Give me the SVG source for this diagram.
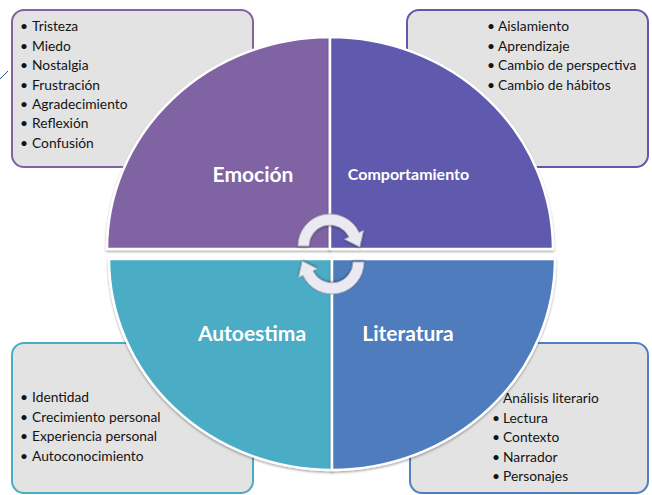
<svg xmlns="http://www.w3.org/2000/svg" width="652" height="495" viewBox="0 0 652 495">
<defs>
<filter id="sh" x="-10%" y="-10%" width="120%" height="120%">
<feDropShadow dx="0" dy="1.5" stdDeviation="1.2" flood-color="#000" flood-opacity="0.35"/>
</filter>
<filter id="ash" x="-30%" y="-30%" width="160%" height="160%">
<feDropShadow dx="0" dy="1" stdDeviation="1" flood-color="#000" flood-opacity="0.35"/>
</filter>
<path id="arr" d="M -32,0 A 32 32 0 0 1 29,-13.5 L 33.5,-15.6 L 29.8,1 L 14.5,-6.8 L 19.0,-8.9 A 21 21 0 0 0 -21,0 Z"/>
</defs>
<style>
.box{fill:#e3e3e3;stroke-width:2}
.li{font-family:Lato,"Liberation Sans",sans-serif;font-size:13.8px;fill:#141414}
.q{stroke:#fff;stroke-width:2.5;stroke-linejoin:round;filter:url(#sh)}
.t{font-family:Lato,"Liberation Sans",sans-serif;font-weight:bold;fill:#fff;text-anchor:middle}
.ar{fill:#ebeaf3;stroke:#a7a6b3;stroke-width:0.9;filter:url(#ash)}
</style>
<rect width="652" height="495" fill="#fff"/>
<g id="box-emocion">
<rect class="box" x="12" y="10" width="241" height="157" rx="12" stroke="#8064a2"/>
<text class="li"><tspan x="20" y="31">•</tspan><tspan x="32" y="31">Tristeza</tspan><tspan x="20" y="50.5">•</tspan><tspan x="32" y="50.5">Miedo</tspan><tspan x="20" y="70">•</tspan><tspan x="32" y="70">Nostalgia</tspan><tspan x="20" y="89.5">•</tspan><tspan x="32" y="89.5">Frustración</tspan><tspan x="20" y="109">•</tspan><tspan x="32" y="109">Agradecimiento</tspan><tspan x="20" y="128">•</tspan><tspan x="32" y="128">Reflexión</tspan><tspan x="20" y="147.5">•</tspan><tspan x="32" y="147.5">Confusión</tspan></text>
</g>
<g id="box-comportamiento">
<rect class="box" x="407" y="10" width="241" height="157" rx="12" stroke="#5f5aad"/>
<text class="li"><tspan x="487" y="31">•</tspan><tspan x="498" y="31">Aislamiento</tspan><tspan x="487" y="50.5">•</tspan><tspan x="498" y="50.5">Aprendizaje</tspan><tspan x="487" y="70">•</tspan><tspan x="498" y="70">Cambio de perspectiva</tspan><tspan x="487" y="89.5">•</tspan><tspan x="498" y="89.5">Cambio de hábitos</tspan></text>
</g>
<g id="box-autoestima">
<rect class="box" x="12" y="343" width="241" height="150" rx="12" stroke="#4bacc6"/>
<text class="li"><tspan x="20" y="402">•</tspan><tspan x="32" y="402">Identidad</tspan><tspan x="20" y="421.5">•</tspan><tspan x="32" y="421.5">Crecimiento personal</tspan><tspan x="20" y="441">•</tspan><tspan x="32" y="441">Experiencia personal</tspan><tspan x="20" y="460.5">•</tspan><tspan x="32" y="460.5">Autoconocimiento</tspan></text>
</g>
<g id="box-literatura">
<rect class="box" x="410" y="343" width="238" height="150" rx="12" stroke="#4f81bd"/>
<text class="li"><tspan x="503" y="403">Análisis literario</tspan><tspan x="492" y="422.5">•</tspan><tspan x="503" y="422.5">Lectura</tspan><tspan x="492" y="442">•</tspan><tspan x="503" y="442">Contexto</tspan><tspan x="492" y="461.5">•</tspan><tspan x="503" y="461.5">Narrador</tspan><tspan x="492" y="481">•</tspan><tspan x="503" y="481">Personajes</tspan></text>
</g>
<g id="emocion">
<path class="q" fill="#8064a2" d="M330,249 L107,249 A223 212 0 0 1 330,37 Z"/>
<text class="t" x="253" y="182" font-size="21">Emoción</text>
</g>
<g id="comportamiento">
<path class="q" fill="#5f5aad" d="M330,249 L330,37 A223 212 0 0 1 553,249 Z"/>
<text class="t" x="408.5" y="180" font-size="16">Comportamiento</text>
</g>
<g id="autoestima">
<path class="q" fill="#4bacc6" d="M332,259 L332,470 A223 211 0 0 1 109,259 Z"/>
<text class="t" x="252" y="341" font-size="21">Autoestima</text>
</g>
<g id="literatura">
<path class="q" fill="#4f7bbd" d="M332,259 L555,259 A223 211 0 0 1 332,470 Z"/>
<text class="t" x="408" y="341" font-size="21">Literatura</text>
</g>
<g id="connectors">
<use href="#arr" class="ar" transform="translate(330,246)"/>
<use href="#arr" class="ar" transform="translate(332,262) rotate(180)"/>
<line x1="0" y1="79" x2="8" y2="71" stroke="#2f4f8f" stroke-width="1"/>
</g>
</svg>
